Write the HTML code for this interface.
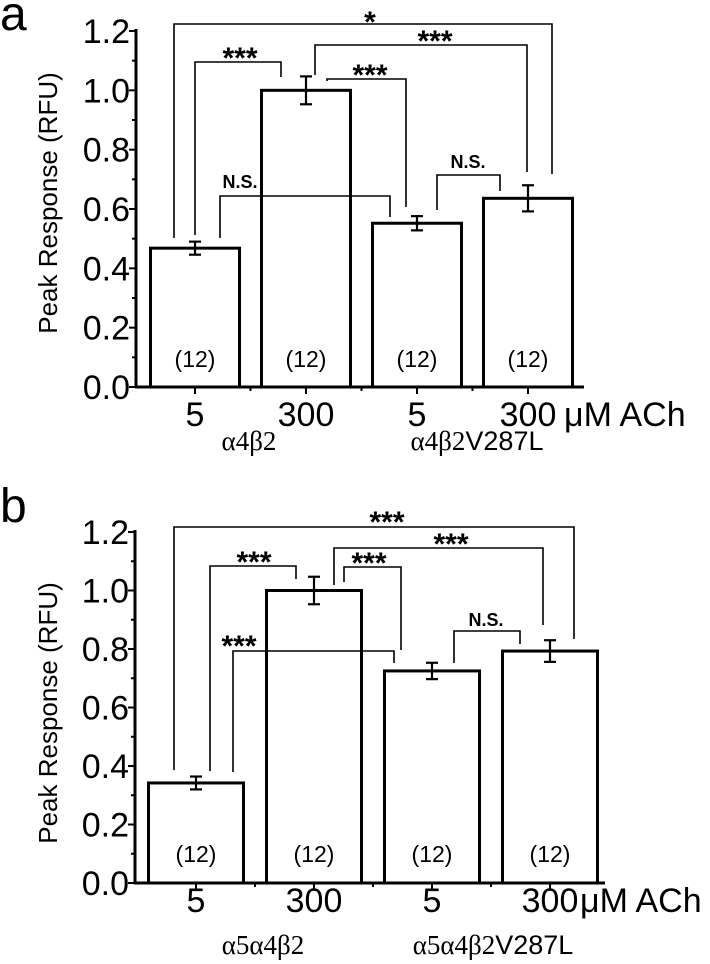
<!DOCTYPE html>
<html><head><meta charset="utf-8"><style>
html,body{margin:0;padding:0;background:#fff;}
svg{display:block;}
text{font-family:"Liberation Sans",sans-serif;fill:#000;}
.ser{font-family:"Liberation Serif",serif;}
</style></head><body>
<svg id="chart" width="710" height="964" viewBox="0 0 710 964" xmlns="http://www.w3.org/2000/svg"></svg>
<script>
// Panel a data
const catsA = ["5", "300", "5", "300"];
const valsA = [0.468, 1.0, 0.552, 0.636];
const errsA = [0.022, 0.047, 0.024, 0.044];
const nA = ["(12)", "(12)", "(12)", "(12)"];
// Panel b data
const catsB = ["5", "300", "5", "300"];
const valsB = [0.342, 1.0, 0.725, 0.793];
const errsB = [0.022, 0.047, 0.028, 0.037];
const nB = ["(12)", "(12)", "(12)", "(12)"];
const yTicks = [0, 0.2, 0.4, 0.6, 0.8, 1.0, 1.2];
const yTickLabels = ["0.0", "0.2", "0.4", "0.6", "0.8", "1.0", "1.2"];

const NS = "http://www.w3.org/2000/svg";
const svg = document.getElementById("chart");
function mk(tag, attrs, parent, txt) {
  const e = document.createElementNS(NS, tag);
  for (const k in attrs) e.setAttribute(k, attrs[k]);
  if (txt !== undefined) e.textContent = txt;
  (parent || svg).appendChild(e);
  return e;
}

function drawPanel(p) {
  const g = mk("g", {});
  
  
  const y = v => p.y0 - v * (p.y0 - p.y12) / 1.2;
  const x = i => p.x0 + i * p.dx;
  const lt = mk("text", {x: 0, y: p.letterY, "font-size": 48}, g, p.letter);
  
  
  const ya = mk("line", {x1: p.ax, y1: p.y0 + 1, x2: p.ax, y2: p.y12 - 2, stroke: "#000", "stroke-width": 3}, g);
  
  
  for (let k = 0; k <= 12; k++) {
    const v = k * 0.1;
    const major = k % 2 === 0;
    mk("line", {x1: p.ax - (major ? 7 : 4), y1: y(v), x2: p.ax, y2: y(v), stroke: "#000", "stroke-width": 2}, g);
  }
  yTicks.forEach((v, i) => {
    const t = mk("text", {x: p.ax - 6, y: y(v) + 12, "font-size": 34, "text-anchor": "end"}, g, yTickLabels[i]);
    
    
  });
  const yt = mk("text", {x: 0, y: 0, "font-size": 26, "text-anchor": "middle", transform: `translate(57,${p.titleY}) rotate(-90)`}, g, "Peak Response (RFU)");
  
  
  const xa = mk("line", {x1: p.ax - 1, y1: p.y0, x2: p.axEnd, y2: p.y0, stroke: "#000", "stroke-width": 3}, g);
  
  
  for (let i = 0; i < p.cats.length; i++) {
    mk("line", {x1: x(i), y1: p.y0, x2: x(i), y2: p.y0 + 7, stroke: "#000", "stroke-width": 2}, g);
    if (i < p.cats.length - 1) mk("line", {x1: x(i) + p.dx / 2, y1: p.y0, x2: x(i) + p.dx / 2, y2: p.y0 + 4, stroke: "#000", "stroke-width": 2}, g);
  }
  p.vals.forEach((v, i) => {
    const b = mk("rect", {x: x(i) - p.bw / 2, y: y(v), width: p.bw, height: p.y0 - y(v), fill: "#fff", stroke: "#000", "stroke-width": 3}, g);
    
    
    const e = p.errs[i];
    const eg = mk("g", {stroke: "#000", "stroke-width": 2.2}, g);
    
    
    mk("line", {x1: x(i), y1: y(v + e), x2: x(i), y2: y(v - e)}, eg);
    mk("line", {x1: x(i) - 6, y1: y(v + e), x2: x(i) + 6, y2: y(v + e)}, eg);
    mk("line", {x1: x(i) - 6, y1: y(v - e), x2: x(i) + 6, y2: y(v - e)}, eg);
    const nt = mk("text", {x: x(i), y: p.nY, "font-size": 23, "text-anchor": "middle"}, g, p.n[i]);
    
    
    const ct = mk("text", {x: x(i), y: p.tickY, "font-size": 34, "text-anchor": "middle"}, g, p.cats[i]);
    
    
  });
  const u = mk("text", {x: p.unitX, y: p.tickY, "font-size": 34}, g, "μM ACh");
  
  
  p.groups.forEach(gr => {
    const t = mk("text", {x: gr.x, y: p.groupY, "font-size": 27, "text-anchor": "middle"}, g);
    
    
    mk("tspan", {class: "ser"}, t, gr.a);
    if (gr.b) mk("tspan", {}, t, gr.b);
  });
  p.brackets.forEach(br => {
    const bg = mk("g", {}, g);
    
    
    mk("polyline", {points: `${br.x1},${br.l} ${br.x1},${br.top} ${br.x2},${br.top} ${br.x2},${br.r}`, fill: "none", stroke: "#000", "stroke-width": 1.6}, bg);
    const ns = br.t === "N.S.";
    mk("text", {x: br.tx, y: br.ty + (ns ? 0 : 11), "font-size": ns ? 18 : 30, "font-weight": "bold", "text-anchor": "middle"}, bg, br.t);
  });
}

drawPanel({
  name: "panel-a", letter: "a", letterY: 30,
  cats: catsA, vals: valsA, errs: errsA, n: nA,
  ax: 136, axEnd: 584, y0: 387, y12: 31,
  x0: 195, dx: 111, bw: 89,
  nY: 367, tickY: 426, unitX: 564, groupY: 450, titleY: 203,
  groups: [{x: 249, a: "α4β2"}, {x: 477, a: "α4β2", b: "V287L"}],
  brackets: [
    {x1: 174, x2: 552, top: 24, l: 238, r: 174, t: "*", tx: 370, ty: 21},
    {x1: 195, x2: 281, top: 62, l: 235, r: 77, t: "***", tx: 240, ty: 57},
    {x1: 315, x2: 527, top: 45, l: 75, r: 172, t: "***", tx: 435, ty: 40},
    {x1: 327, x2: 406, top: 79, l: 81, r: 207, t: "***", tx: 370, ty: 74},
    {x1: 220, x2: 390, top: 196, l: 238, r: 217, t: "N.S.", tx: 240, ty: 188},
    {x1: 437, x2: 500, top: 175, l: 210, r: 191, t: "N.S.", tx: 468, ty: 168}
  ]
});
drawPanel({
  name: "panel-b", letter: "b", letterY: 522,
  cats: catsB, vals: valsB, errs: errsB, n: nB,
  ax: 135, axEnd: 605, y0: 883, y12: 532,
  x0: 196, dx: 118, bw: 95,
  nY: 862, tickY: 912, unitX: 580, groupY: 954, titleY: 713,
  groups: [{x: 263, a: "α5α4β2"}, {x: 493, a: "α5α4β2", b: "V287L"}],
  brackets: [
    {x1: 174, x2: 574, top: 527, l: 770, r: 639, t: "***", tx: 387, ty: 521},
    {x1: 210, x2: 296, top: 566, l: 771, r: 579, t: "***", tx: 254, ty: 561},
    {x1: 334, x2: 543, top: 548, l: 585, r: 625, t: "***", tx: 451, ty: 543},
    {x1: 344, x2: 401, top: 567, l: 582, r: 650, t: "***", tx: 369, ty: 562},
    {x1: 233, x2: 394, top: 651, l: 772, r: 663, t: "***", tx: 239, ty: 645},
    {x1: 454, x2: 520, top: 631, l: 663, r: 644, t: "N.S.", tx: 486, ty: 626}
  ]
});
</script>
</body></html>
